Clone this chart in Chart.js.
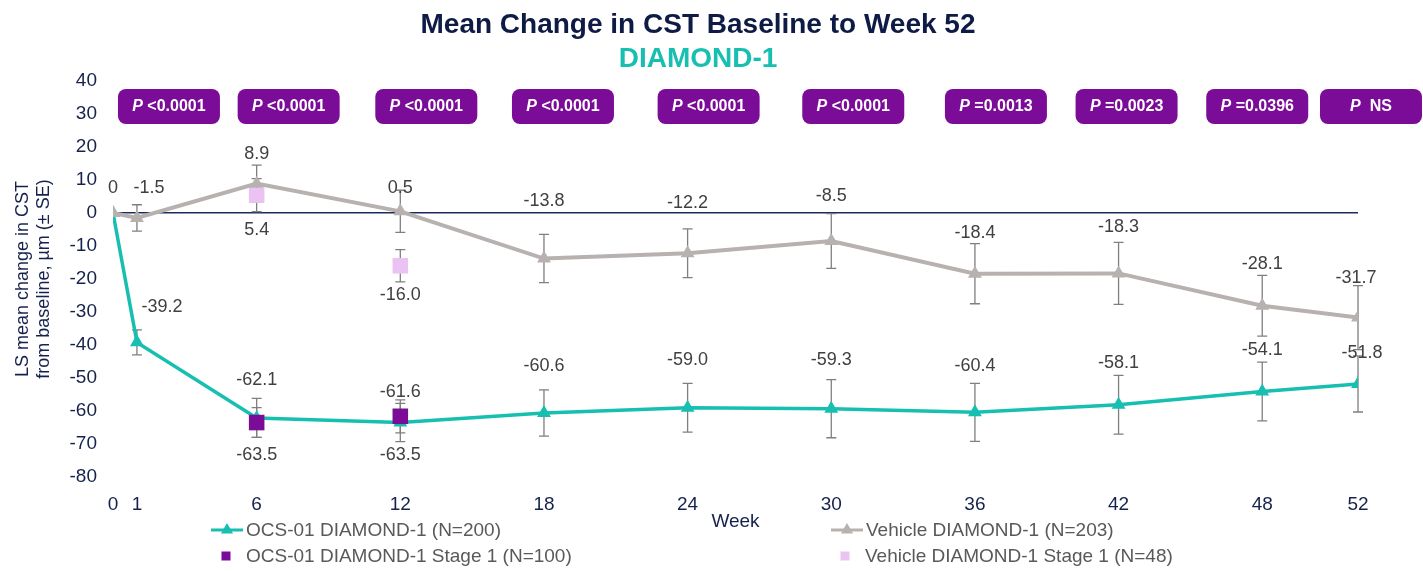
<!DOCTYPE html>
<html>
<head>
<meta charset="utf-8">
<script src="https://cdn.jsdelivr.net/npm/chart.js@4.4.1/dist/chart.umd.min.js"></script>
<style>
  html, body { margin: 0; padding: 0; background: #fff; }
  #wrap { position: relative; width: 1423px; height: 572px; }
</style>
</head>
<body>
<div id="wrap"><canvas id="cst"></canvas></div>
<script>
// values
const weeks = [0, 1, 6, 12, 18, 24, 30, 36, 42, 48, 52]
const ocsMean = [0, -39.2, -62.1, -63.5, -60.6, -59.0, -59.3, -60.4, -58.1, -54.1, -51.8]
const ocsSE = [0, 3.8, 5.9, 5.8, 7.0, 7.4, 8.8, 8.8, 8.9, 8.9, 8.5]
const vehicleMean = [0, -1.5, 8.9, 0.5, -13.8, -12.2, -8.5, -18.4, -18.3, -28.1, -31.7]
const vehicleSE = [0, 4.0, 5.6, 6.4, 7.3, 7.4, 8.3, 9.1, 9.4, 9.2, 9.7]

const stage1Weeks = [6, 12]
const ocsStage1Mean = [-63.5, -61.6]
const ocsStage1SE = [4.5, 5.0]
const vehicleStage1Mean = [5.4, -16.0]
const vehicleStage1SE = [5.0, 4.9]

const pWeeks = [1, 6, 12, 18, 24, 30, 36, 42, 48, 52]
const pValues = ["<0.0001", "<0.0001", "<0.0001", "<0.0001", "<0.0001", "<0.0001", "=0.0013", "=0.0023", "=0.0396", " NS"]

const TEAL = "#17bfb1"
const GRAY = "#b7b1b0"
const PURPLE = "#7a0c97"
const PINK = "#ebc3f2"
const NAVY = "#16224d"
const FONT = "'Liberation Sans', Arial, sans-serif"

const toPoints = (xs, ys) => xs.map((x, i) => ({ x: x, y: ys[i] }))

// label nudges (px) per dataset, relative to each point
const labelShift = {
  0: [null, [25, -35], [0, -38], [0, 32], [0, -47], [0, -48], [0, -49], [0, -46], [0, -42], [0, -41], [4, -31]],
  1: [[0, -25], [12, -30], [0, -30], [0, -23], [0, -58], [0, -50], [0, -45], [0, -41], [0, -46], [0, -42], [-2, -40]],
  2: [[0, 32], [0, -24]],
  3: [[0, 35], [0, 29]]
}
const errors = { 0: ocsSE, 1: vehicleSE, 2: ocsStage1SE, 3: vehicleStage1SE }
// badge centre shift from its week (px)
const badgeShift = [32, 32, 26, 19, 21, 22, 21, 8, -5, 13]

const overlay = {
  id: "overlay",
  beforeDatasetsDraw(chart) {
    const ctx = chart.ctx
    const x = chart.scales.x, y = chart.scales.y
    ctx.save()
    ctx.strokeStyle = "#7f7f7f"
    ctx.lineWidth = 1.3
    chart.data.datasets.forEach((ds, d) => {
      ds.data.forEach((p, i) => {
        const se = errors[d][i]
        if (!se) return
        const px = x.getPixelForValue(p.x)
        const top = y.getPixelForValue(p.y + se)
        const bot = y.getPixelForValue(p.y - se)
        ctx.beginPath()
        ctx.moveTo(px, top); ctx.lineTo(px, bot)
        ctx.moveTo(px - 5, top); ctx.lineTo(px + 5, top)
        ctx.moveTo(px - 5, bot); ctx.lineTo(px + 5, bot)
        ctx.stroke()
      })
    })
    ctx.restore()
  },
  afterDraw(chart) {
    const ctx = chart.ctx
    const x = chart.scales.x, y = chart.scales.y
    ctx.save()

    // titles
    ctx.textAlign = "center"
    ctx.textBaseline = "middle"
    ctx.font = "bold 28px " + FONT
    ctx.fillStyle = "#0e1b45"
    ctx.fillText("Mean Change in CST Baseline to Week 52", 698, 25)
    ctx.fillStyle = TEAL
    ctx.fillText("DIAMOND-1", 698, 59)

    // p-value badges
    pWeeks.forEach((w, i) => {
      const cx = x.getPixelForValue(w) + badgeShift[i]
      ctx.fillStyle = PURPLE
      ctx.beginPath()
      ctx.roundRect(cx - 51, 89, 102, 35, 8)
      ctx.fill()
      ctx.fillStyle = "#fff"
      ctx.font = "italic bold 16px " + FONT
      const pw = ctx.measureText("P").width
      ctx.font = "bold 16px " + FONT
      const tw = ctx.measureText(" " + pValues[i]).width
      const left = cx - (pw + tw) / 2
      ctx.textAlign = "left"
      ctx.font = "italic bold 16px " + FONT
      ctx.fillText("P", left, 107)
      ctx.font = "bold 16px " + FONT
      ctx.fillText(" " + pValues[i], left + pw, 107)
    })

    // data labels
    ctx.textAlign = "center"
    ctx.font = "18px " + FONT
    ctx.fillStyle = "#404040"
    chart.data.datasets.forEach((ds, d) => {
      ds.data.forEach((p, i) => {
        const s = labelShift[d][i]
        if (!s) return
        const txt = p.y === 0 ? "0" : p.y.toFixed(1)
        ctx.fillText(txt, x.getPixelForValue(p.x) + s[0], y.getPixelForValue(p.y) + s[1])
      })
    })

    // legend
    const drawPoint = Chart.helpers.drawPoint
    ctx.font = "19px " + FONT
    ctx.fillStyle = "#595959"
    ctx.textAlign = "left"
    const lineItem = (x0, yy, color, label) => {
      ctx.strokeStyle = color
      ctx.fillStyle = color
      ctx.lineWidth = 3
      ctx.beginPath(); ctx.moveTo(x0, yy); ctx.lineTo(x0 + 32, yy); ctx.stroke()
      drawPoint(ctx, { pointStyle: "triangle", radius: 7, rotation: 0, borderWidth: 0 }, x0 + 16, yy)
      ctx.fillStyle = "#595959"
      ctx.fillText(label, x0 + 35, yy + 1)
    }
    const boxItem = (x0, yy, color, label) => {
      ctx.fillStyle = color
      ctx.fillRect(x0 - 4.5, yy - 4.5, 9, 9)
      ctx.fillStyle = "#595959"
      ctx.fillText(label, x0 + 20, yy + 1)
    }
    lineItem(211, 530, TEAL, "OCS-01 DIAMOND-1 (N=200)")
    lineItem(831, 530, GRAY, "Vehicle DIAMOND-1 (N=203)")
    boxItem(226, 556, PURPLE, "OCS-01 DIAMOND-1 Stage 1 (N=100)")
    boxItem(845, 556, PINK, "Vehicle DIAMOND-1 Stage 1 (N=48)")

    ctx.restore()
  }
}

new Chart(document.getElementById("cst"), {
  type: "line",
  data: {
    datasets: [
      {
        label: "OCS-01 DIAMOND-1 (N=200)",
        data: toPoints(weeks, ocsMean),
        borderColor: TEAL,
        backgroundColor: TEAL,
        borderWidth: 3.5,
        pointStyle: "triangle",
        pointRadius: 8,
        pointBorderWidth: 0,
        order: 3
      },
      {
        label: "Vehicle DIAMOND-1 (N=203)",
        data: toPoints(weeks, vehicleMean),
        borderColor: GRAY,
        backgroundColor: GRAY,
        borderWidth: 4,
        pointStyle: "triangle",
        pointRadius: 8,
        pointBorderWidth: 0,
        order: 1
      },
      {
        label: "OCS-01 DIAMOND-1 Stage 1 (N=100)",
        data: toPoints(stage1Weeks, ocsStage1Mean),
        showLine: false,
        backgroundColor: PURPLE,
        borderColor: PURPLE,
        pointStyle: "rect",
        pointRadius: 11,
        pointBorderWidth: 0,
        order: 0
      },
      {
        label: "Vehicle DIAMOND-1 Stage 1 (N=48)",
        data: toPoints(stage1Weeks, vehicleStage1Mean),
        showLine: false,
        backgroundColor: PINK,
        borderColor: PINK,
        pointStyle: "rect",
        pointRadius: 11,
        pointBorderWidth: 0,
        order: 2
      }
    ]
  },
  options: {
    responsive: true,
    maintainAspectRatio: false,
    animation: false,
    layout: { padding: { top: 81, right: 65, bottom: 39, left: 0 } },
    plugins: {
      legend: { display: false },
      tooltip: { enabled: false }
    },
    scales: {
      x: {
        type: "linear",
        min: 0,
        max: 52,
        afterBuildTicks: axis => { axis.ticks = weeks.map(v => ({ value: v })) },
        afterFit: axis => { axis.height = 56 },
        ticks: {
          autoSkip: false,
          maxRotation: 0,
          padding: 8,
          color: NAVY,
          font: { family: FONT, size: 19 }
        },
        grid: { display: false },
        border: { display: false },
        title: {
          display: true,
          text: "Week",
          color: NAVY,
          padding: 0,
          font: { family: FONT, size: 19 }
        }
      },
      y: {
        min: -80,
        max: 40,
        afterFit: axis => { axis.width = 113 },
        ticks: {
          stepSize: 10,
          padding: 16,
          color: NAVY,
          font: { family: FONT, size: 19 }
        },
        grid: {
          drawTicks: false,
          lineWidth: 1.5,
          color: c => c.tick && c.tick.value === 0 ? "#1f2a5c" : "rgba(0,0,0,0)"
        },
        border: { display: false },
        title: {
          display: true,
          text: ["LS mean change in CST", "from baseline, µm (± SE)"],
          color: NAVY,
          padding: { top: 12, bottom: 0 },
          font: { family: FONT, size: 18, lineHeight: 1.2 }
        }
      }
    }
  },
  plugins: [overlay]
})
</script>
</body>
</html>
